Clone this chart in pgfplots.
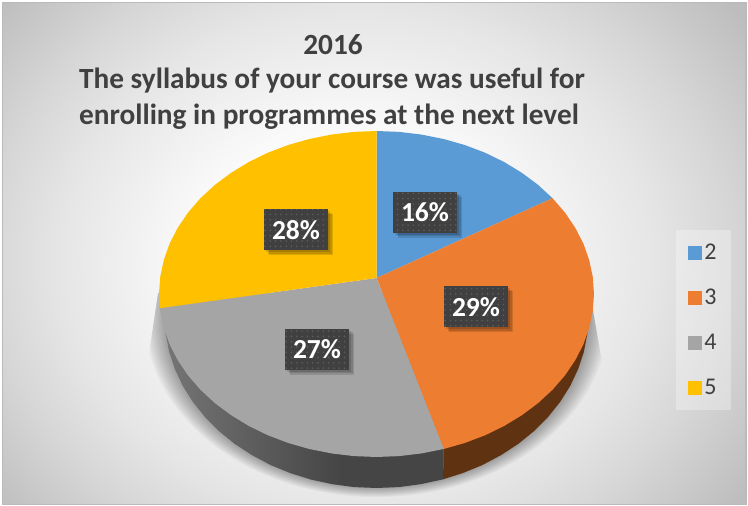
\documentclass[border=0pt]{standalone}
\usepackage{pgfplots}
\pgfplotsset{compat=1.18}
\usepackage{fontspec}
\setmainfont{Carlito}
\usetikzlibrary{patterns.meta,shadows}
\definecolor{tc}{HTML}{404040}
\definecolor{cb}{HTML}{5B9BD5}
\definecolor{co}{HTML}{ED7D31}
\definecolor{cg}{HTML}{A5A5A5}
\definecolor{cy}{HTML}{FFC000}
\definecolor{sb}{HTML}{5F3212}
\pgfdeclareradialshading{bgshade}{\pgfpoint{-2bp}{-1bp}}{gray(0bp)=(1);gray(8bp)=(1);gray(12bp)=(.97);gray(20bp)=(.90);gray(25bp)=(.84);gray(32bp)=(.74);gray(50bp)=(.74)}
\pgfdeclarehorizontalshading{sideshade}{100bp}{gray(0bp)=(.46);gray(25bp)=(.46);gray(57bp)=(.27);gray(100bp)=(.27)}
\tikzset{pct/.style={fill=tc,text=white,inner sep=0pt,minimum width=64pt,minimum height=41pt,
  font=\bfseries\fontsize{27.5}{27.5}\selectfont,
  general shadow={fill=black,opacity=.13,shadow xshift=2pt,shadow yshift=-2pt},
  general shadow={fill=black,opacity=.13,shadow xshift=3.5pt,shadow yshift=-3.5pt},
  general shadow={fill=black,opacity=.13,shadow xshift=5pt,shadow yshift=-5pt},
  postaction={pattern={Dots[radius=.9pt,distance=5.3pt]},pattern color=white!15!tc}},
  sh/.style={black,opacity=.035}}
\begin{document}
\begin{tikzpicture}
\begin{axis}[scale only axis,width=748pt,height=506pt,xmin=0,xmax=748,ymin=0,ymax=506,hide axis,
  legend image code/.code={\fill[#1,fill opacity=1] (0pt,-7pt) rectangle (14pt,7pt);},
  legend style={at={(axis cs:703.5,186)},anchor=center,draw=none,fill=white,fill opacity=.3,text opacity=1,
    font=\fontsize{24}{24}\selectfont,text=tc,row sep=24pt,inner xsep=12pt,inner ysep=12pt,
    /tikz/every odd column/.append style={column sep=0pt}},
  legend cell align=left]
% background
\fill[white] (axis cs:0,0) rectangle (axis cs:748,506);
\begin{scope}
\clip (axis cs:2.5,1.5) rectangle (axis cs:746,503.5);
\path[overlay,shading=bgshade] (axis cs:2.5,-60) rectangle (axis cs:746,566);
\end{scope}
\draw[black!27,line width=1.5pt] (axis cs:2.5,1.5) rectangle (axis cs:746,503.5);
% soft shadow
\begin{scope}
\clip (axis cs:158,213) -- (axis cs:145,125) -- (axis cs:145,0) -- (axis cs:606,0) -- (axis cs:606,121) -- (axis cs:590,213) -- cycle;
\fill[sh] (axis cs:376.5,190) ellipse [x radius=232pt,y radius=181pt];
\fill[sh] (axis cs:376.5,190) ellipse [x radius=230pt,y radius=180pt];
\fill[sh] (axis cs:376.5,190) ellipse [x radius=228pt,y radius=179pt];
\fill[sh] (axis cs:376.5,190) ellipse [x radius=226pt,y radius=178pt];
\fill[sh] (axis cs:376.5,190) ellipse [x radius=224pt,y radius=177pt];
\fill[sh] (axis cs:376.5,190) ellipse [x radius=222pt,y radius=176pt];
\fill[sh] (axis cs:376.5,190) ellipse [x radius=220pt,y radius=175pt];
\fill[sh] (axis cs:376.5,190) ellipse [x radius=218pt,y radius=174pt];
\fill[sh] (axis cs:376.5,190) ellipse [x radius=216pt,y radius=173pt];
\fill[sh] (axis cs:376.5,190) ellipse [x radius=214pt,y radius=172pt];
\end{scope}
% side
\addplot[forget plot,draw=none,fill=sb] coordinates {
(588.5,190)(587.3,172.0)(583.9,154.2)(578.1,136.8)(570.2,120.0)(560.1,104.0)(548.0,88.9)(534.0,74.9)(518.4,62.2)(501.1,50.9)(482.5,41.0)(462.7,32.9)(443.0,26.7)(443.7,57)(500,200)(588.5,190)};
\addplot[forget plot,draw=none,shading=sideshade] coordinates {
(443.0,26.7)(442.0,26.4)(420.6,21.8)(398.7,18.9)(376.5,18)(354.3,18.9)(332.4,21.8)(311.0,26.4)(290.3,32.9)(270.5,41.0)(251.9,50.9)(234.6,62.2)(219.0,74.9)(205.0,88.9)(192.9,104.0)(182.8,120.0)(174.9,136.8)(169.1,154.2)(165.7,172.0)(164.5,190)(300,200)(443.7,57)(443.0,26.7)};
% top
\addplot[draw=none,fill=cb] coordinates {
(376.5,228)(376.5,375)(399.2,374.1)(421.7,371.4)(443.7,367.0)(465.0,360.9)(485.3,353.2)(504.3,343.9)(522.0,333.1)(538.1,321.1)(552.5,307.8)(376.5,228)};
\addplot[draw=none,fill=co] coordinates {
(376.5,228)(552.5,307.8)(564.9,293.5)(575.2,278.3)(583.4,262.4)(589.2,245.9)(592.8,229.0)(594.0,212)(592.8,195.0)(589.2,178.1)(583.4,161.6)(575.2,145.7)(564.9,130.5)(552.5,116.2)(538.1,102.9)(522.0,90.9)(504.3,80.1)(485.3,70.8)(465.0,63.1)(443.7,57.0)(376.5,228)};
\addplot[draw=none,fill=cg] coordinates {
(376.5,228)(443.7,57.0)(421.7,52.6)(399.2,49.9)(376.5,49)(353.8,49.9)(331.3,52.6)(309.3,57.0)(288.0,63.1)(267.7,70.8)(248.7,80.1)(231.0,90.9)(214.9,102.9)(200.5,116.2)(188.1,130.5)(177.8,145.7)(169.6,161.6)(163.8,178.1)(160.2,195.0)(159.8,197.8)(376.5,228)};
\addplot[draw=none,fill=cy] coordinates {
(376.5,228)(159.8,197.8)(159,212)(160.2,229.0)(163.8,245.9)(169.6,262.4)(177.8,278.3)(188.1,293.5)(200.5,307.8)(214.9,321.1)(231.0,333.1)(248.7,343.9)(267.7,353.2)(288.0,360.9)(309.3,367.0)(331.3,371.4)(353.8,374.1)(376.5,375)(376.5,228)};
\legend{2,3,4,5}
% data labels
\node[pct] at (axis cs:425,293.5) {16\%};
\node[pct] at (axis cs:476,199) {29\%};
\node[pct] at (axis cs:317,156.5) {27\%};
\node[pct] at (axis cs:296,276) {28\%};
% title
\node[anchor=base,text=tc,font=\bfseries\fontsize{29.3}{29.3}\selectfont] at (axis cs:333,451) {2016};
\node[anchor=base,text=tc,font=\bfseries\fontsize{29.3}{29.3}\selectfont] at (axis cs:332,417) {The syllabus of your course was useful for};
\node[anchor=base,text=tc,font=\bfseries\fontsize{29.3}{29.3}\selectfont] at (axis cs:329,381) {enrolling in programmes at the next level};
\end{axis}
\end{tikzpicture}
\end{document}
